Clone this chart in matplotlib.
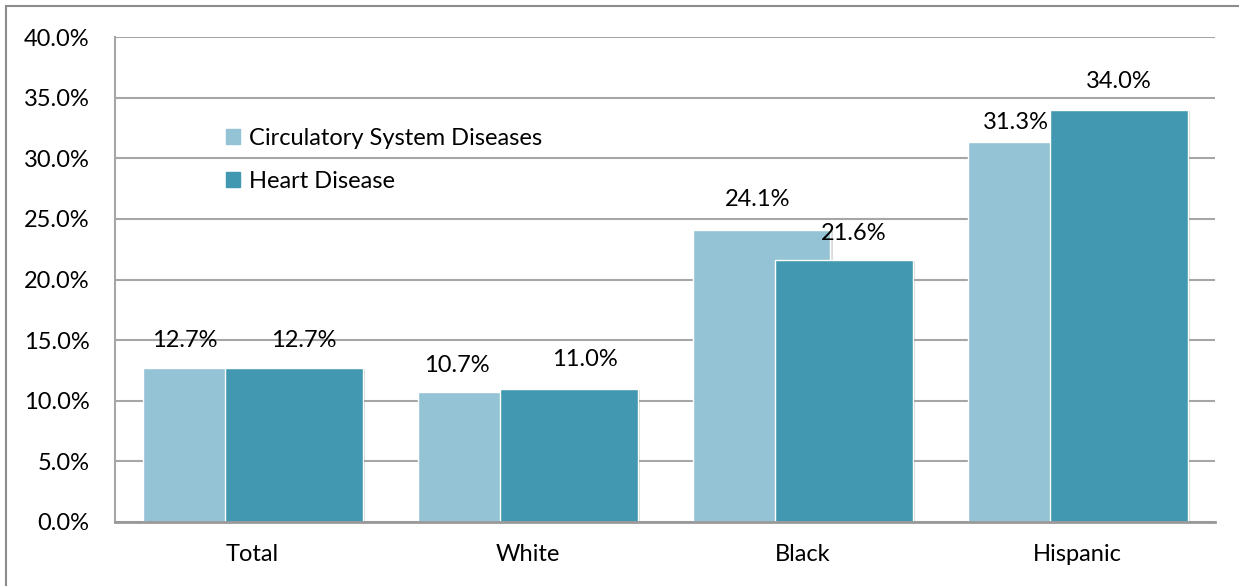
#!/usr/bin/env python
"""Grouped bar chart: circulatory system diseases vs heart disease by group."""

from matplotlib import pyplot as plt
from matplotlib import patheffects
from matplotlib.patches import Patch, Rectangle
from matplotlib.ticker import FuncFormatter, MultipleLocator

categories = ['Total', 'White', 'Black', 'Hispanic']
series_names = ['Circulatory System Diseases', 'Heart Disease']
circulatory = [12.7, 10.7, 24.1, 31.3]
heart = [12.7, 11.0, 21.6, 34.0]

LIGHT = '#93c3d5'
DARK = '#4298b0'
GRID = '#a6a6a6'
FS = 17

# label nudges in pixels (the original moves labels apart where they collide)
light_dx = [-26, -29, -4, -20]
light_dy = [28, 27, 30, 20]
dark_dx = [10, 16, 10, 0]
dark_dy = [28, 29, 27, 28]


def main():
    plt.rcParams['font.family'] = ['Lato', 'DejaVu Sans']
    fig = plt.figure(figsize=(12.39, 5.86), dpi=100)
    ax = fig.add_axes([115 / 1239, 1 - 522 / 586, 1100 / 1239, 485 / 586])

    x = range(len(categories))
    width = 0.5
    off = 0.15
    shadow = [patheffects.SimplePatchShadow(offset=(2, -1), alpha=0.18),
              patheffects.Normal()]

    b1 = ax.bar([i - off for i in x], circulatory, width, color=LIGHT,
                edgecolor='white', linewidth=1, zorder=3)
    b2 = ax.bar([i + off for i in x], heart, width, color=DARK,
                edgecolor='white', linewidth=1, zorder=4)
    for bar in list(b1) + list(b2):
        bar.set_path_effects(shadow)

    for bar, v, dx, dy in zip(b1, circulatory, light_dx, light_dy):
        ax.annotate(f'{v:.1f}%', (bar.get_x() + bar.get_width() / 2, v),
                    xytext=(dx, dy), textcoords='offset pixels',
                    ha='center', va='center', fontsize=FS, zorder=6)
    for bar, v, dx, dy in zip(b2, heart, dark_dx, dark_dy):
        ax.annotate(f'{v:.1f}%', (bar.get_x() + bar.get_width() / 2, v),
                    xytext=(dx, dy), textcoords='offset pixels',
                    ha='center', va='center', fontsize=FS, zorder=6)

    ax.set_xlim(-0.5, len(categories) - 0.5)
    ax.set_ylim(0, 40)
    ax.yaxis.set_major_locator(MultipleLocator(5))
    ax.yaxis.set_major_formatter(FuncFormatter(lambda v, p: f'{v:.1f}%'))
    ax.set_xticks(list(x))
    ax.set_xticklabels(categories)
    ax.tick_params(axis='both', length=0, labelsize=FS)
    ax.tick_params(axis='y', pad=18.5)
    ax.tick_params(axis='x', pad=16)

    ax.grid(axis='y', color=GRID, linewidth=1.5, zorder=0)
    ax.set_axisbelow(True)
    for side in ['top', 'right']:
        ax.spines[side].set_visible(False)
    ax.spines['left'].set_color(GRID)
    ax.spines['left'].set_linewidth(1.5)
    ax.spines['bottom'].set_color('#999999')
    ax.spines['bottom'].set_linewidth(2)
    ax.spines['bottom'].set_zorder(5)

    handles = [Patch(color=LIGHT), Patch(color=DARK)]
    ax.legend(handles, series_names, loc='upper left',
              bbox_to_anchor=(0.101, 0.812), frameon=False, fontsize=FS,
              handlelength=0.6, handleheight=0.6, handletextpad=0.35,
              labelspacing=0.92, borderpad=0, borderaxespad=0)

    # outer frame of the picture
    fig.add_artist(Rectangle((6 / 1239, -0.1), 1.2, 1.1 - 6 / 586,
                             transform=fig.transFigure, fill=False,
                             edgecolor='#8c8c8c', linewidth=1.5,
                             clip_on=False))

    fig.savefig('out.png', dpi=100)


if __name__ == '__main__':
    main()
